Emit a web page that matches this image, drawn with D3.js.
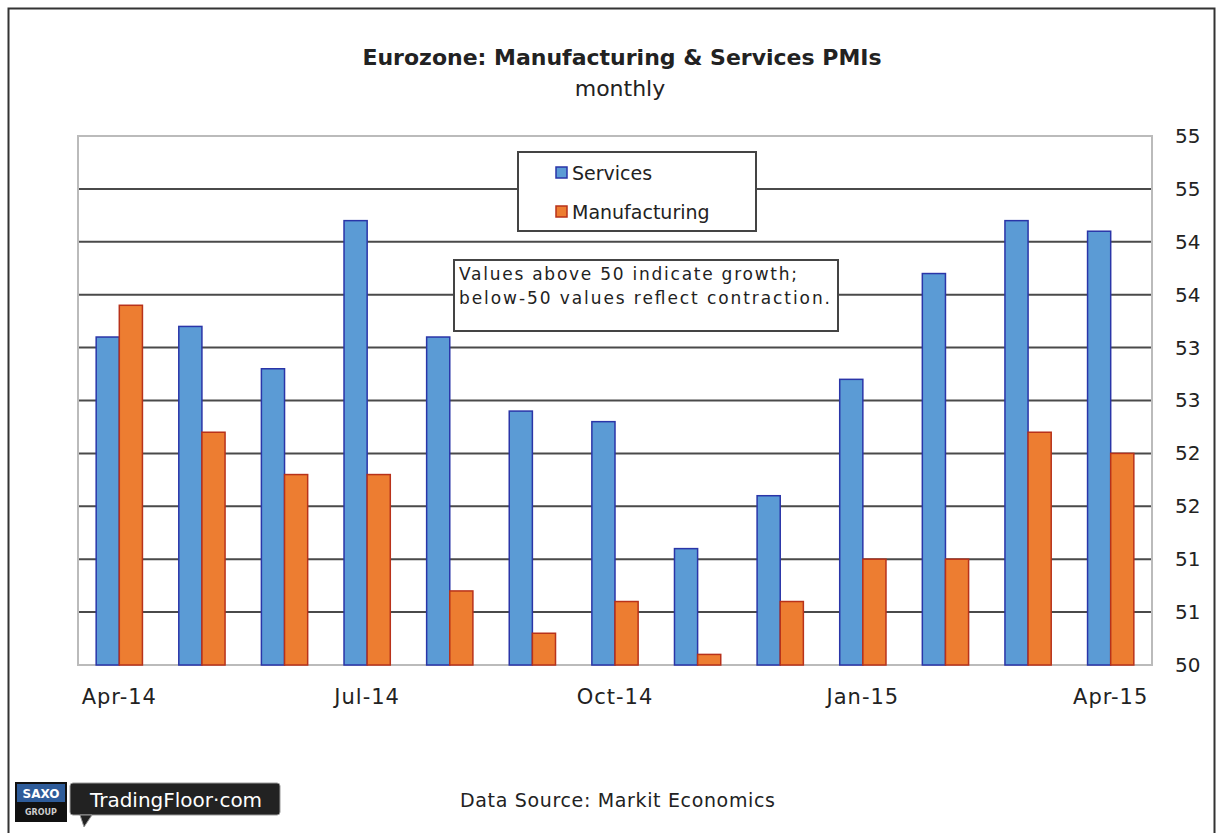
<!DOCTYPE html>
<meta charset="utf-8">
<style>
body { margin: 0; background: #fff; }
text { font-family: "DejaVu Sans", sans-serif; fill: #222; }
.grid line { stroke: #4a4a4a; stroke-width: 2px; }
</style>
<svg width="1223" height="833"></svg>
<script src="https://cdnjs.cloudflare.com/ajax/libs/d3/7.8.5/d3.min.js"></script>
<script>

var months = ["Apr-14","May-14","Jun-14","Jul-14","Aug-14","Sep-14","Oct-14","Nov-14","Dec-14","Jan-15","Feb-15","Mar-15","Apr-15"];
var services = [53.1, 53.2, 52.8, 54.2, 53.1, 52.4, 52.3, 51.1, 51.6, 52.7, 53.7, 54.2, 54.1];
var manufacturing = [53.4, 52.2, 51.8, 51.8, 50.7, 50.3, 50.6, 50.1, 50.6, 51.0, 51.0, 52.2, 52.0];
var shownMonths = ["Apr-14","Jul-14","Oct-14","Jan-15","Apr-15"];
var yTicks = [50, 50.5, 51, 51.5, 52, 52.5, 53, 53.5, 54, 54.5, 55];

var svg = d3.select("svg");

// outer frame
svg.append("rect")
    .attr("x", 8.5).attr("y", 8.5)
    .attr("width", 1206).attr("height", 840)
    .attr("fill", "none").attr("stroke", "#333").attr("stroke-width", 2);

var plotL = 78, plotR = 1152, plotT = 136, plotB = 665;

var x = d3.scaleBand().domain(months).range([plotL, plotR]).paddingInner(0.44).paddingOuter(0.22);
var sub = d3.scaleBand().domain(["s","m"]).range([0, x.bandwidth()]);
var y = d3.scaleLinear().domain([50, 55]).range([plotB, plotT]);

// gridlines
svg.append("g").attr("class", "grid")
  .selectAll("line")
  .data(yTicks.filter(function(d) { return d > 50 && d < 55; }))
  .enter().append("line")
    .attr("x1", plotL).attr("x2", plotR)
    .attr("y1", function(d) { return y(d); })
    .attr("y2", function(d) { return y(d); });

// plot frame
svg.append("rect")
    .attr("x", plotL).attr("y", plotT)
    .attr("width", plotR - plotL).attr("height", plotB - plotT)
    .attr("fill", "none").attr("stroke", "#bbb").attr("stroke-width", 2);

// bars
var groups = svg.append("g").selectAll("g")
  .data(months)
  .enter().append("g")
    .attr("transform", function(d) { return "translate(" + x(d) + ",0)"; });

groups.append("rect")
    .attr("x", sub("s"))
    .attr("width", sub.bandwidth())
    .attr("y", function(d, i) { return y(services[i]); })
    .attr("height", function(d, i) { return plotB - y(services[i]); })
    .attr("fill", "#5b9bd5").attr("stroke", "#2a35a8").attr("stroke-width", 1.5);

groups.append("rect")
    .attr("x", sub("m"))
    .attr("width", sub.bandwidth())
    .attr("y", function(d, i) { return y(manufacturing[i]); })
    .attr("height", function(d, i) { return plotB - y(manufacturing[i]); })
    .attr("fill", "#ed7d31").attr("stroke", "#b8321a").attr("stroke-width", 1.5);

// right y axis
var yAxis = d3.axisRight(y).tickValues(yTicks).tickFormat(d3.format(".0f")).tickSize(0).tickPadding(23);
var ya = svg.append("g").attr("transform", "translate(" + plotR + ",0)").call(yAxis);
ya.select(".domain").remove();
ya.selectAll("text").attr("font-size", 20).attr("font-family", null).attr("fill", "#222");

// x axis
var xAxis = d3.axisBottom(x).tickValues(shownMonths).tickSize(0).tickPadding(24);
var xa = svg.append("g").attr("transform", "translate(0," + plotB + ")").call(xAxis);
xa.select(".domain").remove();
xa.selectAll("text").attr("font-size", 21).attr("font-family", null).attr("fill", "#222")
    .attr("letter-spacing", 1);

// titles
svg.append("text").attr("x", 622).attr("y", 65).attr("text-anchor", "middle")
    .attr("font-size", 22).attr("font-weight", "bold")
    .text("Eurozone: Manufacturing & Services PMIs");
svg.append("text").attr("x", 620).attr("y", 96).attr("text-anchor", "middle")
    .attr("font-size", 22)
    .text("monthly");

// legend
var legend = svg.append("g");
legend.append("rect").attr("x", 518).attr("y", 152).attr("width", 238).attr("height", 79)
    .attr("fill", "#fff").attr("stroke", "#444").attr("stroke-width", 2);
var items = [["Services", "#5b9bd5", "#2a35a8"], ["Manufacturing", "#ed7d31", "#b8321a"]];
items.forEach(function(it, i) {
  legend.append("rect").attr("x", 556).attr("y", 167 + i * 39).attr("width", 11).attr("height", 11)
      .attr("fill", it[1]).attr("stroke", it[2]).attr("stroke-width", 1.5);
  legend.append("text").attr("x", 572).attr("y", 180 + i * 39).attr("font-size", 19).text(it[0]);
});

// annotation
svg.append("rect").attr("x", 454).attr("y", 260).attr("width", 384).attr("height", 71)
    .attr("fill", "#fff").attr("stroke", "#444").attr("stroke-width", 2);
svg.append("text").attr("x", 459).attr("y", 280).attr("font-size", 17)
    .attr("textLength", 338).text("Values above 50 indicate growth;");
svg.append("text").attr("x", 459).attr("y", 304).attr("font-size", 17)
    .attr("textLength", 371).text("below-50 values reflect contraction.");

// source
svg.append("text").attr("x", 460).attr("y", 807).attr("font-size", 19)
    .attr("textLength", 315).text("Data Source: Markit Economics");

// logo
var logo = svg.append("g");
logo.append("rect").attr("x", 15).attr("y", 782).attr("width", 52).attr("height", 40).attr("fill", "#111");
logo.append("rect").attr("x", 17).attr("y", 784).attr("width", 48).attr("height", 18).attr("fill", "#2e5c9a");
logo.append("text").attr("x", 41).attr("y", 798).attr("text-anchor", "middle").attr("font-size", 12)
    .attr("font-weight", "bold").style("fill", "#fff").text("SAXO");
logo.append("text").attr("x", 41).attr("y", 815).attr("text-anchor", "middle").attr("font-size", 8)
    .attr("font-weight", "bold").style("fill", "#ccc").text("GROUP");
logo.append("rect").attr("x", 70).attr("y", 783).attr("width", 210).attr("height", 32).attr("rx", 3)
    .attr("fill", "#222").attr("stroke", "#999").attr("stroke-width", 1);
logo.append("path").attr("d", "M80,815 L84,827 L92,815 Z").attr("fill", "#222").attr("stroke", "#999");
logo.append("text").attr("x", 176).attr("y", 807).attr("text-anchor", "middle").attr("font-size", 20)
    .style("fill", "#fff").text("TradingFloor·com");

</script>
